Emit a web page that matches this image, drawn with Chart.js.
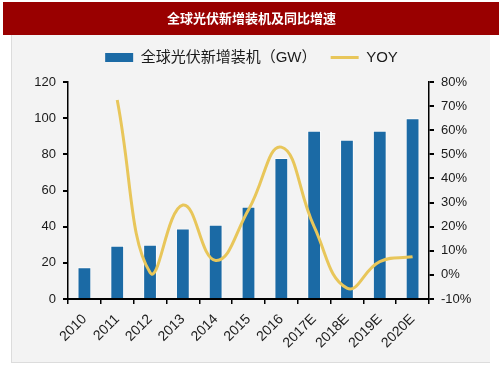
<!DOCTYPE html>
<html><head><meta charset="utf-8">
<script src="https://cdn.jsdelivr.net/npm/chart.js@4/dist/chart.umd.min.js"></script>
<style>html,body{margin:0;padding:0;background:#fff}#wrap{position:relative;width:503px;height:378px}canvas{display:block}</style>
</head><body><div id="wrap"><canvas id="c" width="503" height="378"></canvas></div>
<script>
const categories = ['2010','2011','2012','2013','2014','2015','2016','2017E','2018E','2019E','2020E'];
const capacityGW = [17.5, 29.5, 30, 39, 41, 51, 78, 93, 88, 93, 100];
const yoyPercent = [null, 72.5, 1, 29, 6, 27, 53, 20, -5.5, 5.5, 7.5];
const leftTicks = [0, 20, 40, 60, 80, 100, 120];
const rightTicks = [-10, 0, 10, 20, 30, 40, 50, 60, 70, 80];
const titleText = '全球光伏新增装机及同比增速';
const barLabel = '全球光伏新增装机（GW）';
const lineLabel = 'YOY';

const BAR_COLOR = '#1b6aa5';
const LINE_COLOR = '#e8c65a';
const FONT = '"Liberation Sans", Arial, "Noto Sans CJK SC", sans-serif';
Chart.defaults.font.family = FONT;
Chart.defaults.color = '#1a1a1a';

const backdrop = {
  id: 'backdrop',
  beforeDraw(chart) {
    const ctx = chart.ctx;
    ctx.save();
    ctx.fillStyle = '#ffffff';
    ctx.fillRect(0, 0, chart.width, chart.height);
    ctx.fillStyle = '#f3f3f3';
    ctx.fillRect(12, 35, 478, 328);
    ctx.fillStyle = '#dcdcdc';
    ctx.fillRect(12, 362, 478, 1);
    ctx.fillRect(11, 35, 1, 328);
    ctx.fillStyle = '#990000';
    ctx.fillRect(3, 2, 496, 33);
    ctx.restore();
  }
};
const legendSpacer = {
  id: 'legendSpacer',
  beforeUpdate(chart) {
    const lg = chart.legend;
    if (lg && !lg._spaced) {
      const f = lg.fit;
      lg.fit = function () { f.call(this); this.height += 7; };
      lg._spaced = true;
    }
  }
};

new Chart(document.getElementById('c'), {
  data: {
    labels: categories,
    datasets: [
      { type: 'bar', label: barLabel, data: capacityGW, yAxisID: 'y',
        backgroundColor: BAR_COLOR, borderColor: 'rgba(255,255,255,0.7)', borderWidth: 1,
        barPercentage: 0.42, categoryPercentage: 1, order: 2 },
      { type: 'line', label: lineLabel, data: yoyPercent, yAxisID: 'y1',
        borderColor: LINE_COLOR, backgroundColor: LINE_COLOR, borderWidth: 3,
        pointRadius: 0, tension: 0.45, fill: false, order: 1 }
    ]
  },
  options: {
    responsive: false,
    animation: false,
    layout: { padding: { top: 0, left: 0, right: 0, bottom: 0 } },
    plugins: {
      tooltip: { enabled: false },
      title: { display: true, text: titleText, color: '#ffffff',
        font: { size: 13, weight: 'bold', family: '"Noto Sans CJK SC", sans-serif' },
        padding: { top: 10, bottom: 14.4 } },
      legend: {
        display: true,
        labels: {
          usePointStyle: true, pointStyleWidth: 28, boxHeight: 9, padding: 10,
          font: { size: 15 }, color: '#1a1a1a',
          generateLabels(chart) {
            return [
              { text: barLabel + ' ', fillStyle: BAR_COLOR, strokeStyle: BAR_COLOR, lineWidth: 0,
                pointStyle: 'rect', datasetIndex: 0, fontColor: '#1a1a1a' },
              { text: lineLabel, fillStyle: LINE_COLOR, strokeStyle: LINE_COLOR, lineWidth: 3,
                pointStyle: 'line', datasetIndex: 1, fontColor: '#1a1a1a' }
            ];
          }
        }
      }
    },
    scales: {
      x: {
        offset: true,
        grid: { offset: true, drawOnChartArea: false, drawTicks: true, tickLength: 5, color: '#000', lineWidth: 1.5 },
        border: { display: true, color: '#000', width: 2 },
        ticks: { maxRotation: 45, minRotation: 45, autoSkip: false, padding: 7, font: { size: 14 }, color: '#1a1a1a' },
        afterFit(s) { s.height = 79; }
      },
      y: {
        position: 'left', min: leftTicks[0], max: leftTicks[leftTicks.length - 1],
        ticks: { stepSize: leftTicks[1] - leftTicks[0], padding: 7, font: { size: 13 }, color: '#1a1a1a' },
        grid: { drawOnChartArea: false, drawTicks: true, tickLength: 5, color: '#000', lineWidth: 2 },
        border: { display: true, color: '#000', width: 1.5 },
        afterFit(s) { s.width = 68; }
      },
      y1: {
        position: 'right', min: rightTicks[0], max: rightTicks[rightTicks.length - 1],
        ticks: { stepSize: rightTicks[1] - rightTicks[0], padding: 7, font: { size: 13 }, color: '#1a1a1a',
          callback: v => v + '%' },
        grid: { drawOnChartArea: false, drawTicks: true, tickLength: 5, color: '#000', lineWidth: 2 },
        border: { display: true, color: '#000', width: 1.5 },
        afterFit(s) { s.width = 74; }
      }
    }
  },
  plugins: [backdrop, legendSpacer]
});
</script></body></html>
